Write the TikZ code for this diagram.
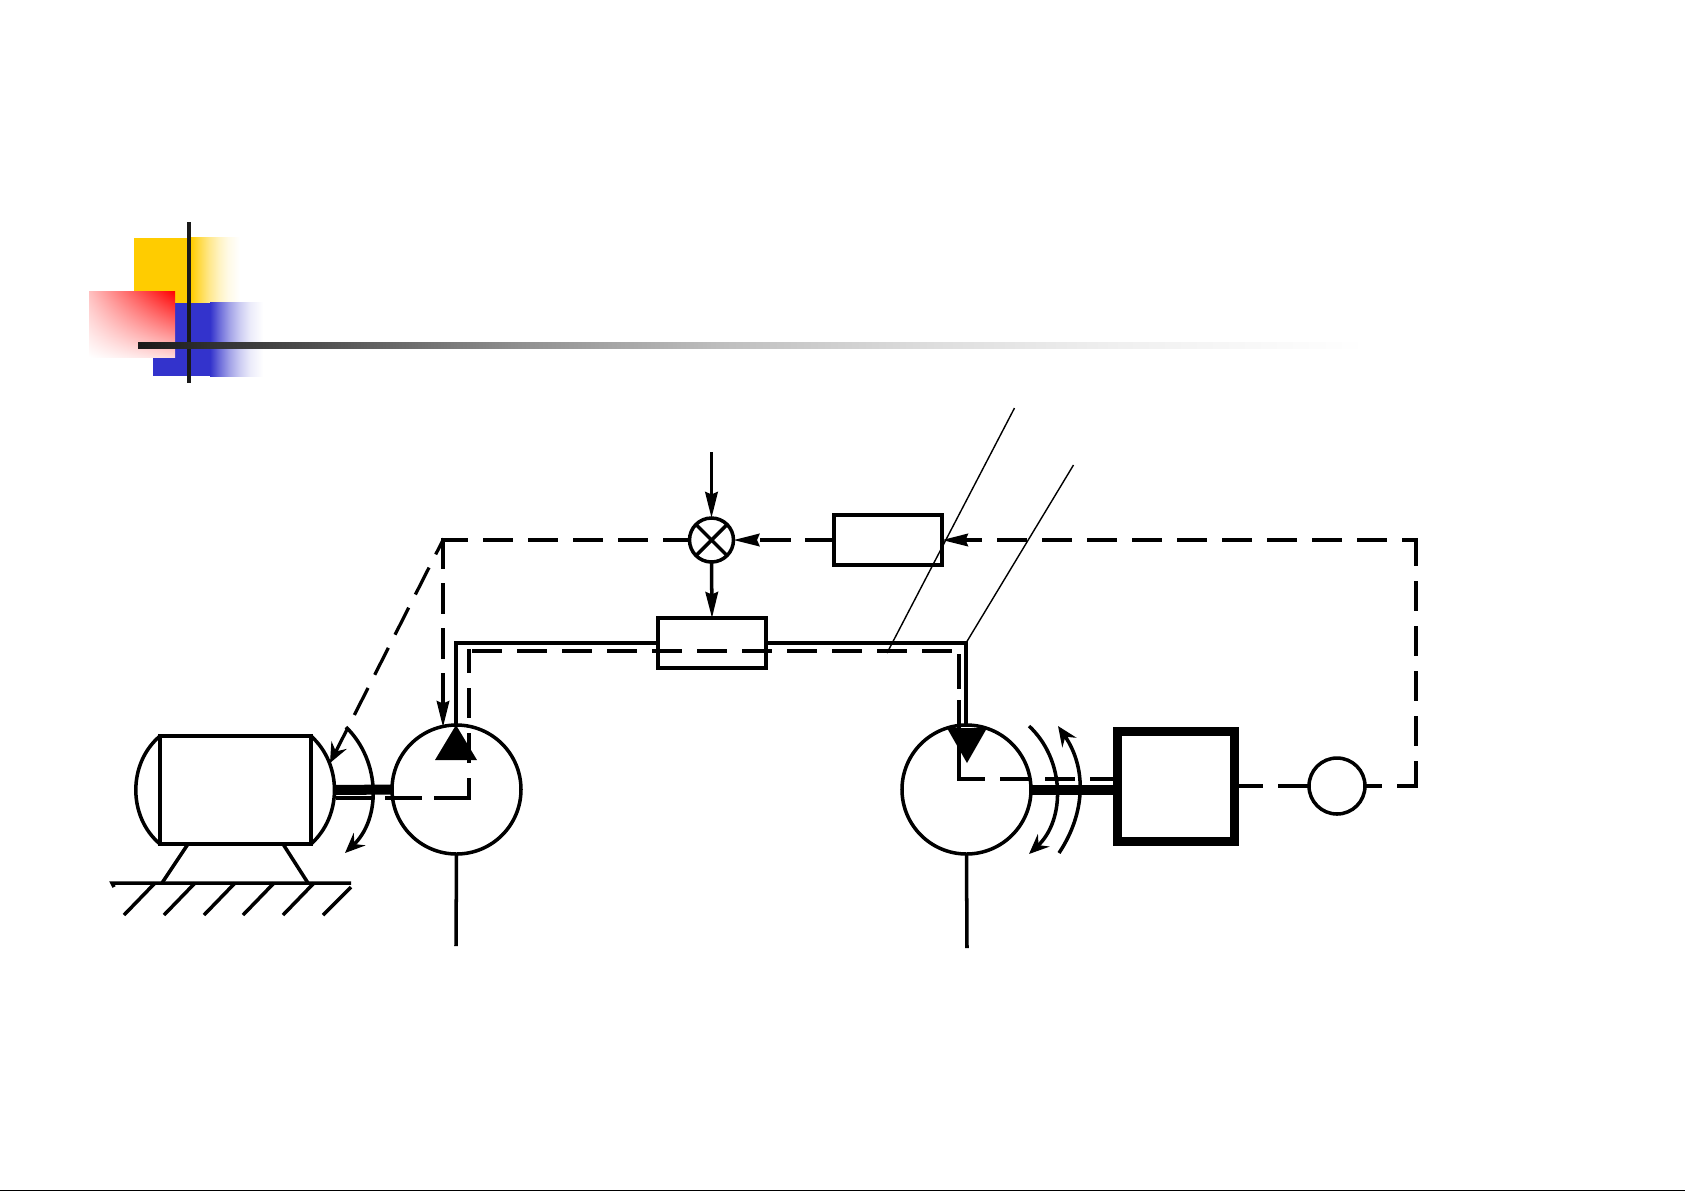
\documentclass[tikz,border=0pt]{standalone}
\usetikzlibrary{arrows.meta,shadings}

\definecolor{blockyellow}{HTML}{FFCC00}
\definecolor{blockblue}{HTML}{3333CC}
\definecolor{barblack}{HTML}{1A1A1A}

\pgfdeclarehorizontalshading{fadeyellow}{100bp}{color(0bp)=(blockyellow); color(25bp)=(blockyellow); color(34.5bp)=(blockyellow!70!white); color(43.5bp)=(blockyellow!45!white); color(53bp)=(blockyellow!25!white); color(62.5bp)=(blockyellow!10!white); color(75bp)=(white); color(100bp)=(white)}
\pgfdeclarehorizontalshading{fadeblue}{100bp}{color(0bp)=(blockblue); color(25bp)=(blockblue); color(34.5bp)=(blockblue!70!white); color(43.5bp)=(blockblue!45!white); color(53bp)=(blockblue!25!white); color(62.5bp)=(blockblue!10!white); color(75bp)=(white); color(100bp)=(white)}
\pgfdeclarehorizontalshading{fadeblack}{100bp}{rgb(0bp)=(.1,.1,.1); rgb(25bp)=(.1,.1,.1); rgb(33.5bp)=(.35,.35,.35); rgb(40.5bp)=(.56,.56,.56); rgb(49bp)=(.75,.75,.75); rgb(57.5bp)=(.87,.87,.87); rgb(65bp)=(.94,.94,.94); rgb(75bp)=(1,1,1); rgb(100bp)=(1,1,1)}

\tikzset{
    wire/.style={line width=1pt},
    signal/.style={line width=0.92pt, line cap=rect, dash pattern=on 0.27cm off 0.18cm},
    block/.style={draw, line width=1pt, inner sep=0pt, outer sep=0pt},
    feed/.style={-{Stealth[length=2.6mm,width=1.25mm,inset=0.25mm]}},
    turn/.style={-{Stealth[length=2mm,width=1.7mm,inset=0.7mm]}},
    shaft/.style={line width=2.85pt},
}

\begin{document}
\begin{tikzpicture}

    \useasboundingbox (0,0) rectangle (16.85,-11.91);

    %% Slide decoration
    \fill[blockyellow] (1.34,-2.38) rectangle (1.91,-3.03);
    \shade[shading=fadeyellow] (1.91,-2.37) rectangle (2.40,-3.03);
    \fill[blockblue] (1.53,-3.03) rectangle (2.10,-3.76);
    \shade[shading=fadeblue] (2.10,-3.02) rectangle (2.63,-3.76);
    \shade[lower left=white, upper right=red, upper left=red!25, lower right=red!15] (0.89,-2.91) rectangle (1.75,-3.57);
    \fill[barblack] (1.87,-2.22) rectangle (1.91,-3.83);
    \shade[shading=fadeblack] (1.38,-3.42) rectangle (13.65,-3.48);

    % Bottom edge
    \fill (0,-11.895) rectangle (16.85,-11.91);

    %% Electric motor
    \node[block, minimum width=1.51cm, minimum height=1.08cm] (motor) at (2.355,-7.90) {};
    \draw[wire] (motor.north west) to[bend right=50] (motor.south west);
    \draw[wire] (motor.north east) to[bend left=48] (motor.south east);
    \coordinate (motorshaft) at (3.34,-7.90);
    \coordinate (motorside) at (3.35,-7.98);

    % Feet and ground
    \coordinate (groundL) at (1.12,-8.83);
    \coordinate (groundR) at (3.51,-8.83);
    \draw[wire] (1.88,-8.44) -- (1.62,-8.83);
    \draw[wire] (2.83,-8.44) -- (3.08,-8.83);
    \draw[wire] (1.14,-8.87) -- (groundL) -- (groundR);
    \foreach \x in {1.24,1.64,2.04,2.43,2.83} {
        \draw[wire] (\x+0.31,-8.83) -- (\x,-9.15);
    }
    \draw[wire] (3.51,-8.87) -- (3.23,-9.15);

    %% Pump
    \node[block, circle, minimum size=1.29cm] (pumpA) at (4.565,-7.895) {};
    \fill (4.56,-7.25) -- (4.35,-7.60) -- (4.77,-7.60) -- cycle;
    \coordinate (pumpAin) at (4.56,-7.25);
    \coordinate (pumpAout) at (4.56,-9.46);
    \draw[wire] (pumpA.south) -- (pumpAout);

    %% Hydraulic motor
    \node[block, circle, minimum size=1.29cm] (pumpB) at (9.665,-7.895) {};
    \fill (9.47,-7.28) -- (9.87,-7.28) -- (9.67,-7.63) -- cycle;
    \coordinate (pumpBin) at (9.66,-7.25);
    \coordinate (pumpBout) at (9.67,-9.48);
    \draw[wire] (pumpB.south) -- (pumpBout);

    %% Load and speed sensor
    \node[draw, line width=2.47pt, inner sep=0pt, outer sep=0pt, minimum width=1.17cm, minimum height=1.10cm] (load) at (11.76,-7.865) {};
    \node[block, circle, minimum size=0.56cm] (sensor) at (13.37,-7.86) {};

    %% Summing point and the two boxes
    \node[block, circle, minimum size=0.44cm] (sum) at (7.115,-5.40) {};
    \draw[wire] (sum.north west) -- (sum.south east);
    \draw[wire] (sum.north east) -- (sum.south west);
    \node[block, minimum width=1.08cm, minimum height=0.50cm] (gauge) at (8.88,-5.40) {};
    \node[block, minimum width=1.08cm, minimum height=0.50cm] (valve) at (7.12,-6.43) {};

    % Hydraulic line
    \draw[line width=1.3pt] (pumpAin) -- (4.56,-6.43) -- (valve.west);
    \draw[line width=1.3pt] (valve.east) -- (9.66,-6.43) -- (pumpBin);

    % Shafts
    \draw[shaft] (motorshaft) -- (pumpA.west);
    \draw[shaft] (pumpB.east) -- (pumpB.east -| load.west);

    % Speed and pressure signal
    \coordinate (loopA) at (4.69,-7.98);
    \coordinate (loopB) at (4.69,-6.51);
    \coordinate (loopC) at (9.59,-6.51);
    \coordinate (loopD) at (9.59,-7.79);
    \coordinate (loopE) at (11.13,-7.79);
    \draw[signal, dash pattern=on 0.33cm off 0.16cm] (loopA) -- (motorside);
    \draw[signal, dash phase=0.085cm] (loopA) -- (loopB);
    \draw[signal, dash phase=0.405cm] (loopB) -- (loopC);
    \draw[signal, dash pattern=on 0.31cm off 0.15cm] (loopD) -- (loopC);
    \draw[signal, dash phase=0.025cm] (loopD) -- (loopE);

    % Feedback from sensor
    \coordinate (backA) at (14.16,-7.86);
    \coordinate (backB) at (14.16,-5.40);
    \draw[signal] (load.east |- sensor.west) -- (sensor.west);
    \draw[signal, dash phase=0.115cm] (sensor.east) -- (backA);
    \draw[signal, dash phase=0.035cm] (backA) -- (backB);
    \draw[signal, feed, dash phase=0.145cm] (backB) -- (gauge.east);
    \draw[signal, feed] (gauge.west) -- (sum.east);

    % Demand and output of the summing point
    \coordinate (demand) at (7.115,-4.52);
    \draw[wire, feed] (demand) -- (sum.north);
    \draw[wire, feed] (sum.south) -- (valve.north);

    % Branches to motor and pump
    \coordinate (branch) at (4.43,-5.40);
    \draw[signal, dash phase=0.035cm] (branch) -- (sum.west);
    \draw[signal, turn, dash phase=0.125cm] (branch) -- (3.30,-7.63);
    \draw[signal, feed] (branch) -- (4.43,-7.27);

    %% Direction of rotation
    \draw[wire, turn] (3.46,-7.27) to[bend left=46] (3.45,-8.53);
    \draw[wire, turn] (10.29,-7.26) to[bend left=47] (10.29,-8.54);
    \draw[wire, turn] (10.59,-8.53) to[bend right=34] (10.58,-7.26);

    %% Leader lines
    \draw[line width=0.4pt] (10.145,-4.08) -- (8.87,-6.53);
    \draw[line width=0.4pt] (10.735,-4.65) -- (9.66,-6.43);

\end{tikzpicture}
\end{document}
